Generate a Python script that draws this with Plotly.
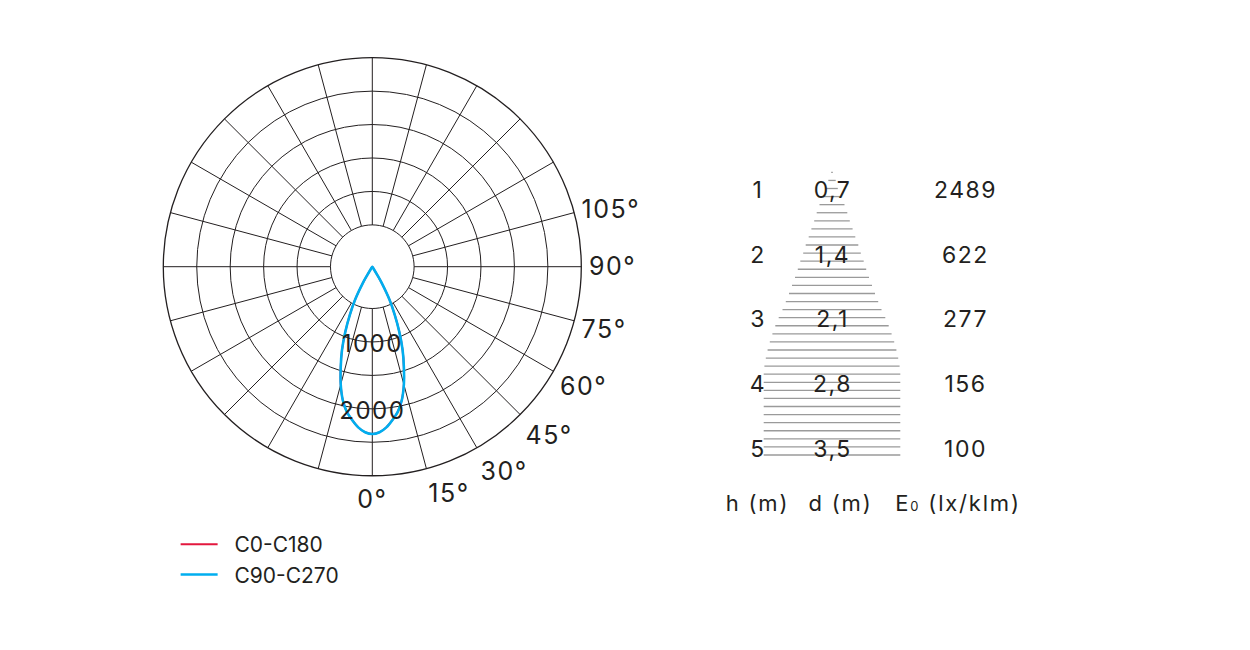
import plotly.graph_objects as go

# ---------------- data ----------------
# luminous intensity (cd/klm) vs. gamma angle (deg), symmetric beam
GAMMA_DEG = [0, 2.5, 5, 7.5, 10, 12.5, 15, 17.5, 20, 22.5, 25, 27.5, 30, 31, 32.5, 35]
I_C0_C180 = [2489, 2465, 2400, 2300, 2190, 2031, 1815, 1561, 1318, 1050, 790, 558, 290, 150, 40, 0]
I_C90_C270 = [2489, 2465, 2400, 2300, 2190, 2031, 1815, 1561, 1318, 1050, 790, 558, 290, 150, 40, 0]

SERIES_NAMES = ["C0-C180", "C90-C270"]
SERIES_COLORS = ["#E3173E", "#00AEEF"]
SERIES_WIDTHS = [2.0, 2.6]

RADIAL_LABEL_VALUES = [1000, 2000]
ANGLE_TICKS = list(range(0, 360, 15))
ANGLE_LABELED_MAX = 105

# table: mounting height, beam diameter, illuminance
H_M = [1, 2, 3, 4, 5]
D_M = ["0,7", "1,4", "2,1", "2,8", "3,5"]
E0 = [2489, 622, 277, 156, 100]
HEADERS = ["h (m)", "d (m)", "E<span style='font-size:13px'>0</span> (lx/klm)"]

# light cone hatch: heights (m) and half widths (px-units of table axis)
CONE_H = [k / 8 for k in range(6, 42)]
CONE_HALF_W = [0.8, 3.7, 5.8, 9.0, 12.5, 15.3, 17.8, 20.6, 23.3, 26.3, 28.8, 31.7,
               34.2, 37.0, 40.0, 43.0, 46.2, 49.5, 53.3, 56.7, 59.6, 62.2, 64.4,
               66.2, 67.6, 68.3, 68.3, 68.3, 68.3, 68.3, 68.3, 68.3, 68.3, 68.3,
               68.3, 68.3]

# ---------------- layout constants ----------------
W, H = 1250, 650
FONT = "Inter, Liberation Sans, Arial, sans-serif"
INK = "#231f20"
R_MAX = 3110                       # outer ring value
HOLE = 0.2 * R_MAX                 # inner circle
RINGS = [R_MAX * f for f in (0.36, 0.52, 0.68, 0.84)]

CX, CY, RAD = 372.3, 266.7, 209.0
polar_dom_x = [(CX - RAD) / W, (CX + RAD) / W]
polar_dom_y = [(H - (CY + RAD)) / H, (H - (CY - RAD)) / H]

# table axis: x in px-units centered on cone, y in metres (reversed)
TX0, TX1 = 700, 1050
TY0, TY1 = 100, 550
ROW1_PX, ROW_PX = 188.5, 64.6
x_range = [TX0 - 832, TX1 - 832]
y_top = 1 - (ROW1_PX - TY0) / ROW_PX
y_bot = 1 + (TY1 - ROW1_PX) / ROW_PX
COL_X = [-74, 0.5, 133.5]
HEAD_X = [-74.5, 8.5, 126]
HEAD_H = 5.9
TEXT_DY = 0.06          # visual nudge of row text relative to hatch lines


def spaced(s, px):
    return f"<span style='letter-spacing:{px}px'>{s}</span>"


def mirrored(gam, val):
    th = [-g for g in reversed(gam)] + gam[1:]
    rr = list(reversed(val)) + val[1:]
    return th, rr


fig = go.Figure()

# inner white disk with black outline (covers spokes)
disk_theta = list(range(0, 361, 5))
fig.add_trace(go.Scatterpolar(
    r=[HOLE] * len(disk_theta), theta=disk_theta, mode="lines",
    fill="toself", fillcolor="white", line=dict(color=INK, width=1),
    showlegend=False, hoverinfo="skip"))

for name, color, lw, vals in zip(SERIES_NAMES, SERIES_COLORS, SERIES_WIDTHS,
                                 [I_C0_C180, I_C90_C270]):
    th, rr = mirrored(GAMMA_DEG, vals)
    fig.add_trace(go.Scatterpolar(
        r=rr, theta=th, mode="lines", name="\u00a0\u00a0" + name,
        line=dict(color=color, width=lw, shape="spline", smoothing=0.8)))

# radial value labels
fig.add_trace(go.Scatterpolar(
    r=RADIAL_LABEL_VALUES, theta=[0] * len(RADIAL_LABEL_VALUES), mode="text",
    text=[spaced(v, 1.5) for v in RADIAL_LABEL_VALUES], textposition="bottom center",
    textfont=dict(family=FONT, size=24, color=INK),
    showlegend=False, hoverinfo="skip"))

# cone hatch lines
hx, hy = [], []
for h, w in zip(CONE_H, CONE_HALF_W):
    hx += [-w, w, None]
    hy += [h, h, None]
fig.add_trace(go.Scatter(
    x=hx, y=hy, mode="lines", line=dict(color="#9a9a9a", width=1.3),
    xaxis="x", yaxis="y", showlegend=False, hoverinfo="skip"))

# table text
for cx, col in zip(COL_X, [[str(v) for v in H_M], D_M, [str(v) for v in E0]]):
    fig.add_trace(go.Scatter(
        x=[cx] * len(H_M), y=[h + TEXT_DY for h in H_M], mode="text",
        text=[spaced(c, 1.5) for c in col],
        textposition="middle center",
        textfont=dict(family=FONT, size=23, color=INK),
        showlegend=False, hoverinfo="skip"))
fig.add_trace(go.Scatter(
    x=HEAD_X, y=[HEAD_H] * len(HEADERS), mode="text",
    text=[spaced(t, 1.8) for t in HEADERS],
    textposition="middle center",
    textfont=dict(family=FONT, size=22, color=INK),
    showlegend=False, hoverinfo="skip"))

fig.update_layout(
    width=W, height=H,
    margin=dict(l=0, r=0, t=0, b=0),
    paper_bgcolor="white", plot_bgcolor="white",
    font=dict(family=FONT, color=INK),
    polar=dict(
        domain=dict(x=polar_dom_x, y=polar_dom_y),
        bgcolor="white",
        radialaxis=dict(range=[0, R_MAX], tickmode="array", tickvals=RINGS,
                        showticklabels=False, showline=False, ticks="",
                        gridcolor=INK, gridwidth=1),
        angularaxis=dict(rotation=-90, direction="counterclockwise",
                         tickmode="array", tickvals=ANGLE_TICKS,
                         ticktext=[spaced(f"{t}°", 1.5) if t <= ANGLE_LABELED_MAX else ""
                                   for t in ANGLE_TICKS],
                         tickfont=dict(family=FONT, size=25, color=INK),
                         ticks="outside", ticklen=2, tickcolor="rgba(0,0,0,0)",
                         showline=True, linecolor=INK, linewidth=1.3,
                         gridcolor=INK, gridwidth=1),
    ),
    xaxis=dict(domain=[TX0 / W, TX1 / W], range=x_range, visible=False, fixedrange=True),
    yaxis=dict(domain=[(H - TY1) / H, (H - TY0) / H], range=[y_bot, y_top],
               visible=False, fixedrange=True),
    showlegend=True,
    legend=dict(x=0.1405, y=(H - 524) / H, xanchor="left", yanchor="top",
                font=dict(family=FONT, size=21, color=INK),
                bgcolor="rgba(0,0,0,0)", itemwidth=37, tracegroupgap=0),
)

fig.write_html("out.html", config={"displayModeBar": False},
               post_script="document.body.style.margin='0px';")
